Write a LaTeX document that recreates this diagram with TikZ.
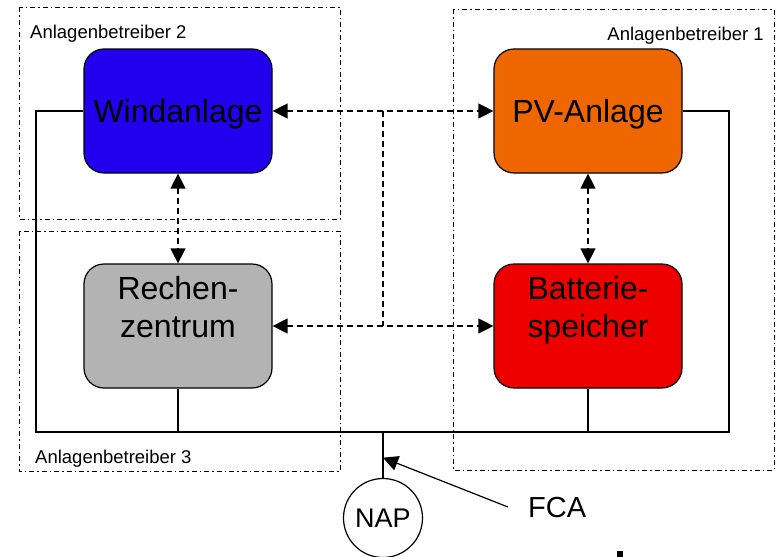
\documentclass[tikz,border=0pt]{standalone}
\usepackage{fontspec}
\setmainfont{Liberation Sans}
\usetikzlibrary{arrows.meta,calc}
\definecolor{windblue}{HTML}{2200EE}
\definecolor{pvorange}{HTML}{EE6600}
\definecolor{rzgray}{HTML}{B3B3B3}
\definecolor{batred}{HTML}{EE0000}
\begin{document}
\begin{tikzpicture}
          [x=1pt,y=-1pt,
          box/.style={shape=rectangle,rounded corners=20pt,draw=black,line width=1.2pt,minimum width=188pt,minimum height=124pt,align=center,text height=23pt,text depth=0pt,font=\fontsize{32}{38}\selectfont},
          group/.style={line width=1pt,dash pattern=on 5pt off 3pt on 1.5pt off 3pt},
          grouplabel/.style={inner sep=0pt,font=\fontsize{18.5}{22}\selectfont},
          arc/.style={<->,>={Triangle[length=15pt,width=15pt]},line width=1.3pt,dash pattern=on 6pt off 4pt},
          wire/.style={line width=1.2pt}]

            \useasboundingbox (0,0) rectangle (780,557);

            \draw [group] (19,7) rectangle (340,219);
            \draw [group] (19,231) rectangle (340,471);
            \draw [group] (453,9) rectangle (774,470);

            \node (op2) [grouplabel,anchor=base west] at (30,38) {Anlagenbetreiber 2};
            \node (op1) [grouplabel,anchor=base east] at (764,40) {Anlagenbetreiber 1};
            \node (op3) [grouplabel,anchor=base west] at (35,463) {Anlagenbetreiber 3};

            \node (wind) [box,fill=windblue] at (178,111) {Windanlage};
            \node (pv) [box,fill=pvorange] at (588,111) {PV-Anlage};
            \node (rz) [box,fill=rzgray] at (178,326) {Rechen-\\zentrum};
            \node (bat) [box,fill=batred] at (588,326) {Batterie-\\speicher};
            \node (nap) [shape=circle,draw,line width=1.2pt,minimum size=79pt,inner sep=0pt,text height=19pt,text depth=0pt,font=\fontsize{27}{30}\selectfont] at (383,518) {NAP};
            \node (fca) [anchor=base west,inner xsep=20pt,inner ysep=0pt,font=\fontsize{29}{32}\selectfont] at (508,517) {FCA};

          \draw [arc] (wind) -- (pv);
          \draw [arc] (rz) -- (bat);
          \draw [arc] (wind) -- (rz);
          \draw [arc] (pv) -- (bat);
          \draw [arc,-] ($(wind.east)!.5!(pv.west)$) -- ($(rz.east)!.5!(bat.west)$);

            \coordinate (busl) at (36,432);
            \coordinate (busr) at (729,432);
          \draw [wire] (wind.west) -| (busl) -- (busr) |- (pv.east);
          \draw [wire] (rz.south) -- (rz.south |- busl);
          \draw [wire] (bat.south) -- (bat.south |- busl);
          \draw [wire] (nap.north) -- (nap.north |- busl);

            \coordinate (tip) at ($(nap.north)!.44!(nap.north |- busl)$);
          \draw [wire,-{Triangle[length=15pt,width=15pt]}] (fca.west) -- (tip);

          \fill (617,551) rectangle (623,557);

        \end{tikzpicture}
\end{document}
